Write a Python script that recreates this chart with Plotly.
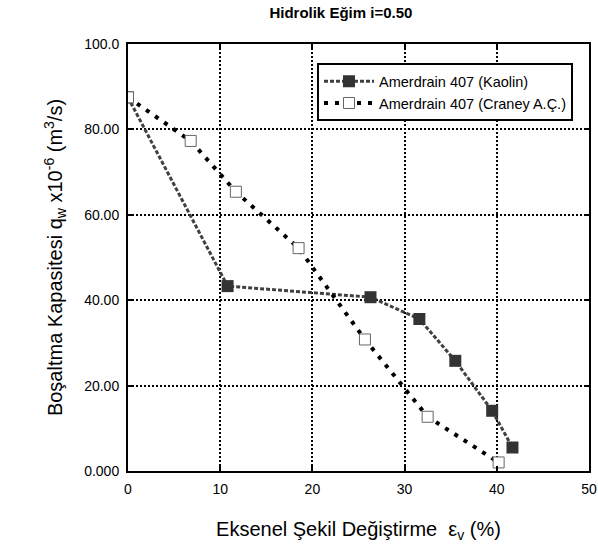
import plotly.graph_objects as go

# Axial strain (%) and discharge capacity (x10^-6 m^3/s)
kaolin_strain = [0.0, 10.8, 26.3, 31.6, 35.5, 39.5, 41.7]
kaolin_q = [87.5, 43.3, 40.7, 35.6, 25.8, 14.1, 5.5]

craney_strain = [0.0, 6.8, 11.7, 18.5, 25.7, 32.5, 40.2]
craney_q = [87.5, 77.3, 65.4, 52.2, 30.8, 12.7, 2.0]

x_ticks = [0, 10, 20, 30, 40, 50]
y_ticks = [0, 20, 40, 60, 80, 100]
y_tick_text = ["0.000", "20.00", "40.00", "60.00", "80.00", "100.0"]

FONT = "Liberation Sans, Arial, sans-serif"

fig = go.Figure()

fig.add_trace(go.Scatter(
    x=kaolin_strain, y=kaolin_q,
    mode="lines+markers",
    name="Amerdrain 407 (Kaolin)",
    line=dict(color="#404040", width=3, dash="4px,2px"),
    marker=dict(symbol="square", size=12, color="#333333",
                line=dict(color="#333333", width=0)),
))

fig.add_trace(go.Scatter(
    x=craney_strain, y=craney_q,
    mode="lines+markers",
    name="Amerdrain 407 (Craney A.Ç.)",
    line=dict(color="black", width=4, dash="4px,7px"),
    marker=dict(symbol="square", size=11, color="white",
                line=dict(color="#666666", width=1)),
))

axis_common = dict(
    showline=True, linecolor="black", linewidth=2, mirror="ticks",
    ticks="inside", ticklen=5, tickwidth=2, tickcolor="black",
    showgrid=True, gridcolor="black", gridwidth=1.5, griddash="2px,2px",
    zeroline=False, automargin=False,
    tickfont=dict(family=FONT, size=14, color="black"),
)

fig.update_xaxes(
    range=[0, 50], tickvals=x_ticks,
    title=dict(text="Eksenel Şekil Değiştirme  ε<sub>v</sub> (%)",
               font=dict(family=FONT, size=20, color="black"), standoff=26),
    ticklabelstandoff=4,
    **axis_common,
)
fig.update_yaxes(
    range=[0, 100], tickvals=y_ticks, ticktext=y_tick_text,
    title=dict(text="Boşaltma Kapasitesi q<sub>w</sub> x10<sup>-6</sup> (m<sup>3</sup>/s)",
               font=dict(family=FONT, size=20, color="black"), standoff=16),
    ticklabelstandoff=4,
    **axis_common,
)

fig.update_layout(
    width=598, height=557,
    margin=dict(l=128, r=9, t=44, b=86),
    paper_bgcolor="white", plot_bgcolor="white",
    title=dict(text="<b>Hidrolik Eğim i=0.50</b>", x=0.57, xanchor="center",
               y=0.978, yanchor="middle",
               font=dict(family=FONT, size=15, color="black")),
    legend=dict(x=0.41, y=0.955, xanchor="left", yanchor="top",
                bgcolor="white", bordercolor="black", borderwidth=2,
                font=dict(family=FONT, size=14.5, color="black"),
                tracegroupgap=0, itemwidth=50),
    showlegend=True,
)

fig.write_html("out.html")
